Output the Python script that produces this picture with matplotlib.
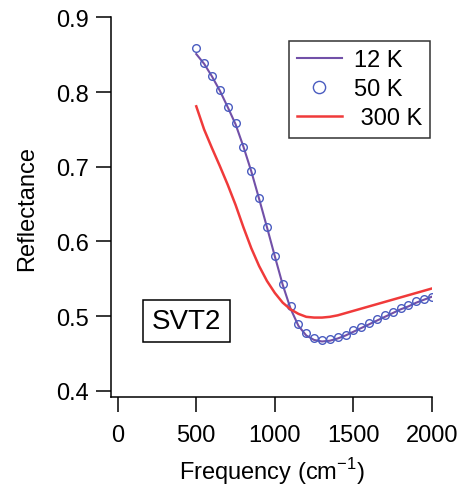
import matplotlib
matplotlib.use("Agg")
import matplotlib.pyplot as plt
import numpy as np

plt.rcParams['font.family'] = ['Liberation Sans', 'DejaVu Sans']

freq = [500, 550, 600, 650, 700, 750, 800, 850, 900, 950, 1000, 1050, 1100,
        1150, 1200, 1250, 1300, 1350, 1400, 1450, 1500, 1550, 1600, 1650,
        1700, 1750, 1800, 1850, 1900, 1950, 2000]

r12 = [0.851, 0.838, 0.821, 0.802, 0.780, 0.757, 0.727, 0.694, 0.657, 0.619,
       0.580, 0.542, 0.510, 0.487, 0.474, 0.468, 0.466, 0.467, 0.470, 0.474,
       0.479, 0.484, 0.489, 0.494, 0.499, 0.504, 0.509, 0.513, 0.518, 0.522,
       0.526]

r50 = [0.859, 0.839, 0.822, 0.803, 0.780, 0.758, 0.727, 0.695, 0.658, 0.620,
       0.581, 0.543, 0.513, 0.490, 0.477, 0.470, 0.468, 0.469, 0.472, 0.475,
       0.481, 0.486, 0.491, 0.496, 0.501, 0.506, 0.511, 0.515, 0.520, 0.523,
       0.526]

r300 = [0.781, 0.750, 0.725, 0.701, 0.676, 0.649, 0.619, 0.591, 0.567, 0.547,
        0.531, 0.518, 0.509, 0.503, 0.499, 0.498, 0.498, 0.499, 0.501, 0.504,
        0.507, 0.510, 0.513, 0.516, 0.519, 0.522, 0.525, 0.528, 0.531, 0.534,
        0.537]

xticks = [0, 500, 1000, 1500, 2000]
yticks = [0.4, 0.5, 0.6, 0.7, 0.8, 0.9]

fig = plt.figure(figsize=(4.6, 4.89), dpi=100)
ax = fig.add_axes([0.2413, 0.1867, 0.6978, 0.7755])

ax.plot(freq, r12, color='#7250a8', lw=1.5, label='12 K')
ax.plot(freq, r50, linestyle='none', marker='o', ms=5.5, mfc='none',
        mec='#4a5cc0', mew=1.0, label='50 K')
ax.plot(freq, r300, color='#f03a3a', lw=1.8, label=' 300 K')

ax.set_xlim(-42.6, 2000)
ax.set_ylim(0.392, 0.9)
ax.set_xticks(xticks)
ax.set_yticks(yticks)
ax.set_xticklabels([str(v) for v in xticks])
ax.set_yticklabels([f'{v:.1f}' for v in yticks])

for s in ['top', 'right']:
    ax.spines[s].set_visible(False)
for s in ['left', 'bottom']:
    ax.spines[s].set_linewidth(1.1)

ax.tick_params(axis='both', direction='out', length=11, width=1.1,
               labelsize=17, pad=5)
ax.tick_params(axis='x', pad=9)

ax.set_xlabel('Frequency (cm$^{\\mathregular{-1}}$)', fontsize=17, labelpad=6)
ax.set_ylabel('Reflectance', fontsize=17, labelpad=13)

leg = ax.legend(loc='upper right', bbox_to_anchor=(0.994, 0.938), fontsize=17,
                frameon=True, fancybox=False, edgecolor='black',
                handlelength=1.9, handletextpad=0.5, borderpad=0.35,
                labelspacing=0.3, markerscale=1.6, borderaxespad=0.0)
leg.get_frame().set_linewidth(1.1)

ax.text(0.33, 0.3415, 'SVT2', transform=fig.transFigure, ha='left', va='center',
        fontsize=20,
        bbox=dict(boxstyle='square,pad=0.3', fc='white', ec='black', lw=1.1))

fig.savefig('out.png', dpi=100)
